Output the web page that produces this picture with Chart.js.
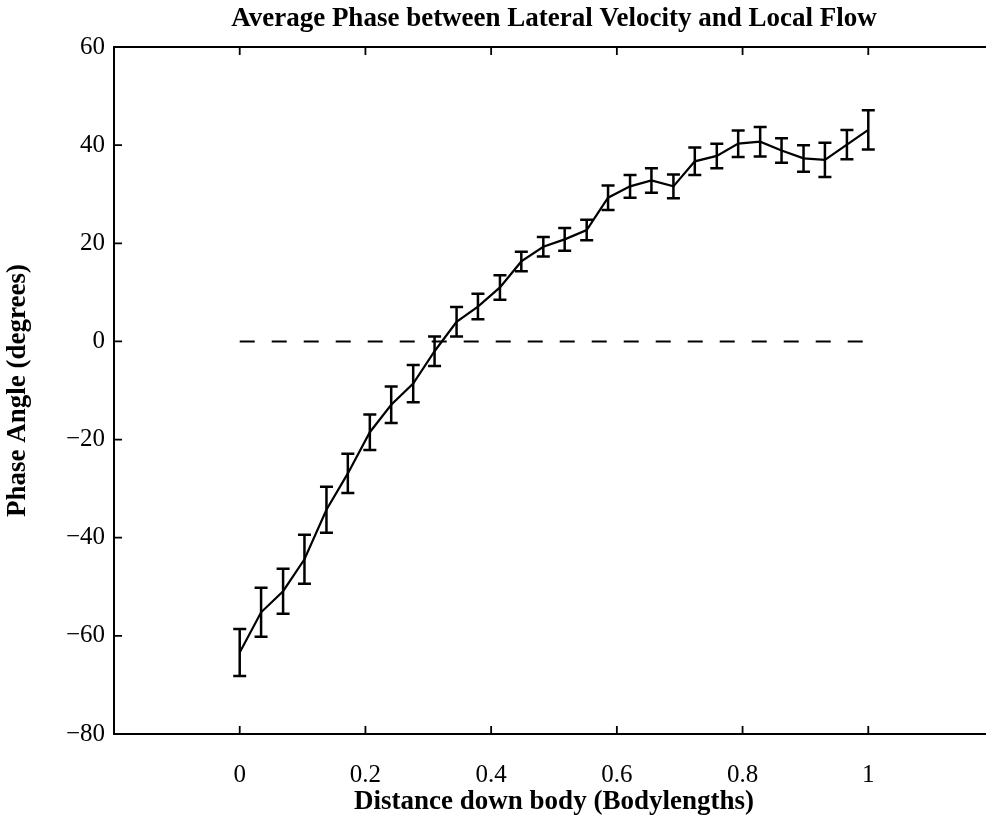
<!DOCTYPE html>
<html>
<head>
<meta charset="utf-8">
<style>
  html, body { margin: 0; padding: 0; background: #fff; overflow: hidden; }
  #wrap { width: 986px; height: 818px; overflow: hidden; }
</style>
<script src="https://cdn.jsdelivr.net/npm/chart.js@4.4.1/dist/chart.umd.min.js"></script>
</head>
<body>
<div id="wrap"><canvas id="c" width="1020" height="818"></canvas></div>
<script>
// ---- Data ----
const distance = [0, 0.034, 0.069, 0.103, 0.138, 0.172, 0.207, 0.241, 0.276, 0.310,
                  0.345, 0.379, 0.414, 0.448, 0.483, 0.517, 0.552, 0.586, 0.621, 0.655,
                  0.690, 0.724, 0.759, 0.793, 0.828, 0.862, 0.897, 0.931, 0.966, 1.0];
const phaseMean = [-63.4, -55.2, -50.9, -44.4, -34.3, -26.9, -18.5, -12.9, -8.6, -2.0,
                   4.0, 7.1, 11.0, 16.3, 19.3, 20.8, 22.7, 29.3, 31.6, 32.8,
                   31.6, 36.7, 37.8, 40.3, 40.7, 38.9, 37.3, 37.0, 40.1, 43.1];
const phaseErr = [4.8, 5.0, 4.6, 5.0, 4.7, 4.0, 3.6, 3.7, 3.8, 3.0,
                  3.0, 2.6, 2.5, 2.0, 2.0, 2.3, 2.1, 2.5, 2.3, 2.5,
                  2.4, 2.8, 2.5, 2.7, 3.0, 2.5, 2.7, 3.5, 3.0, 4.0];
const zeroLineX = [0, 1];
const zeroLineY = [0, 0];
const xTicks = [-0.2, 0, 0.2, 0.4, 0.6, 0.8, 1, 1.2];
const yTicks = [-80, -60, -40, -20, 0, 20, 40, 60];
const titleText = 'Average Phase between Lateral Velocity and Local Flow';
const xTitle = 'Distance down body (Bodylengths)';
const yTitle = 'Phase Angle (degrees)';

const serif = "'Liberation Serif', 'Times New Roman', Times, serif";

const boxPlugin = {
  id: 'boxAndErrors',
  afterDatasetsDraw(chart) {
    const ctx = chart.ctx;
    const xs = chart.scales.x, ys = chart.scales.y;
    const a = chart.chartArea;
    ctx.save();
    // error bars
    ctx.strokeStyle = '#000';
    ctx.lineWidth = 2.5;
    const cap = 6.5;
    for (let i = 0; i < distance.length; i++) {
      const px = xs.getPixelForValue(distance[i]);
      const top = ys.getPixelForValue(phaseMean[i] + phaseErr[i]);
      const bot = ys.getPixelForValue(phaseMean[i] - phaseErr[i]);
      ctx.beginPath();
      ctx.moveTo(px, top); ctx.lineTo(px, bot);
      ctx.moveTo(px - cap, top); ctx.lineTo(px + cap, top);
      ctx.moveTo(px - cap, bot); ctx.lineTo(px + cap, bot);
      ctx.stroke();
    }
    // axes box
    ctx.lineWidth = 2;
    ctx.strokeRect(a.left, a.top, a.right - a.left, a.bottom - a.top);
    // inward ticks
    const tl = 8;
    ctx.lineWidth = 1.8;
    ctx.beginPath();
    xTicks.forEach(v => {
      const px = xs.getPixelForValue(v);
      ctx.moveTo(px, a.bottom); ctx.lineTo(px, a.bottom - tl);
      ctx.moveTo(px, a.top); ctx.lineTo(px, a.top + tl);
    });
    yTicks.forEach(v => {
      const py = ys.getPixelForValue(v);
      ctx.moveTo(a.left, py); ctx.lineTo(a.left + tl, py);
      ctx.moveTo(a.right, py); ctx.lineTo(a.right - tl, py);
    });
    ctx.stroke();
    ctx.restore();
  }
};

new Chart(document.getElementById('c'), {
  type: 'line',
  data: {
    datasets: [
      {
        data: distance.map((x, i) => ({ x: x, y: phaseMean[i] })),
        borderColor: '#000',
        borderWidth: 2.2,
        pointRadius: 0,
        tension: 0,
        fill: false
      },
      {
        data: zeroLineX.map((x, i) => ({ x: x, y: zeroLineY[i] })),
        borderColor: '#000',
        borderWidth: 2,
        borderDash: [15, 17],
        pointRadius: 0,
        fill: false
      }
    ]
  },
  options: {
    responsive: false,
    animation: false,
    devicePixelRatio: 1,
    layout: { padding: { left: 0, right: 6, top: 0, bottom: 0 } },
    plugins: {
      legend: { display: false },
      tooltip: { enabled: false },
      title: {
        display: true,
        text: titleText,
        fullSize: false,
        color: '#000',
        font: { family: serif, size: 27, weight: 'bold', lineHeight: 1.2 },
        padding: { top: 2.4, bottom: 12.2 }
      }
    },
    scales: {
      x: {
        type: 'linear',
        min: -0.2, max: 1.2,
        afterBuildTicks(s) { s.ticks = xTicks.map(v => ({ value: v })); },
        afterFit(s) { s.height = 84; },
        border: { display: false },
        grid: { display: false, drawTicks: false },
        ticks: {
          color: '#000',
          padding: 26,
          maxRotation: 0,
          autoSkip: false,
          font: { family: serif, size: 25 },
          callback(v) { return (v < -0.01 || v > 1.01) ? '' : String(Math.round(v * 10) / 10); }
        },
        title: {
          display: true, text: xTitle, color: '#000',
          font: { family: serif, size: 27, weight: 'bold', lineHeight: 1.2 },
          padding: { top: 0, bottom: 0 }
        }
      },
      y: {
        type: 'linear',
        min: -80, max: 60,
        afterBuildTicks(s) { s.ticks = yTicks.map(v => ({ value: v })); },
        afterFit(s) { s.width = 114; },
        border: { display: false },
        grid: { display: false, drawTicks: false },
        ticks: {
          color: '#000',
          padding: 9,
          autoSkip: false,
          font: { family: serif, size: 25 },
          callback(v) { return v < 0 ? '\u2212' + Math.abs(v) : String(v); }
        },
        title: {
          display: true, text: yTitle, color: '#000',
          font: { family: serif, size: 27, weight: 'bold', lineHeight: 1.2 },
          padding: { top: 2, bottom: 0 }
        }
      }
    }
  },
  plugins: [boxPlugin]
});
</script>
</body>
</html>
